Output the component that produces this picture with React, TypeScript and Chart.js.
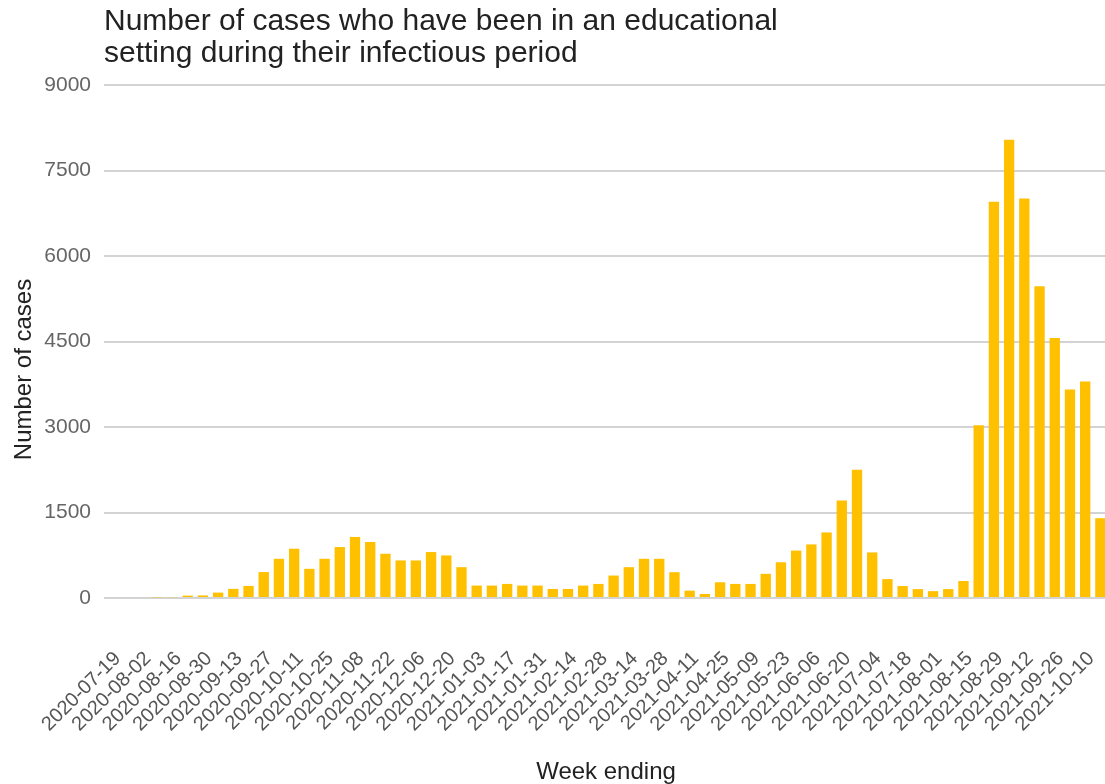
import React, { useEffect, useRef } from "react";
import { Chart, registerables } from "chart.js";

Chart.register(...registerables);

const TITLE_LINES = [
  "Number of cases who have been in an educational",
  "setting during their infectious period",
];
const X_TITLE = "Week ending";
const Y_TITLE = "Number of cases";

const WEEKS = [
  "2020-07-19", "2020-07-26", "2020-08-02", "2020-08-09", "2020-08-16", "2020-08-23",
  "2020-08-30", "2020-09-06", "2020-09-13", "2020-09-20", "2020-09-27", "2020-10-04",
  "2020-10-11", "2020-10-18", "2020-10-25", "2020-11-01", "2020-11-08", "2020-11-15",
  "2020-11-22", "2020-11-29", "2020-12-06", "2020-12-13", "2020-12-20", "2020-12-27",
  "2021-01-03", "2021-01-10", "2021-01-17", "2021-01-24", "2021-01-31", "2021-02-07",
  "2021-02-14", "2021-02-21", "2021-02-28", "2021-03-07", "2021-03-14", "2021-03-21",
  "2021-03-28", "2021-04-04", "2021-04-11", "2021-04-18", "2021-04-25", "2021-05-02",
  "2021-05-09", "2021-05-16", "2021-05-23", "2021-05-30", "2021-06-06", "2021-06-13",
  "2021-06-20", "2021-06-27", "2021-07-04", "2021-07-11", "2021-07-18", "2021-07-25",
  "2021-08-01", "2021-08-08", "2021-08-15", "2021-08-22", "2021-08-29", "2021-09-05",
  "2021-09-12", "2021-09-19", "2021-09-26", "2021-10-03", "2021-10-10", "2021-10-17",
];

const CASES = [
  0, 0, 0, 12, 14, 42,
  45, 95, 160, 212, 455, 688,
  865, 512, 688, 894, 1071, 982,
  776, 659, 659, 806, 747, 541,
  218, 218, 247, 218, 218, 159,
  159, 218, 247, 394, 541, 688,
  688, 453, 129, 71, 276, 247,
  247, 424, 627, 832, 940, 1150,
  1710, 2250, 800, 332, 210, 156,
  120, 156, 298, 3030, 6950, 8040,
  7010, 5470, 4560, 3660, 3800, 1400,
];

const Y_MIN = 0;
const Y_MAX = 9000;
const Y_STEP = 1500;

const FONT = '"Liberation Sans", Arial, sans-serif';

const yTitlePlugin = {
  id: "yTitleCustom",
  afterDraw(chart: any) {
    const { ctx, chartArea } = chart;
    ctx.save();
    ctx.translate(24, (chartArea.top + chartArea.bottom) / 2 + 28);
    ctx.rotate(-Math.PI / 2);
    ctx.font = `24px ${FONT}`;
    ctx.fillStyle = "#222222";
    ctx.textAlign = "center";
    ctx.textBaseline = "middle";
    ctx.fillText(Y_TITLE, 0, 0);
    ctx.restore();
  },
};

export default function App() {
  const ref = useRef<HTMLCanvasElement | null>(null);

  useEffect(() => {
    document.body.style.margin = "0";
    if (!ref.current) return;
    const chart = new Chart(ref.current, {
      type: "bar",
      data: {
        labels: WEEKS,
        datasets: [
          {
            label: Y_TITLE,
            data: CASES,
            backgroundColor: "#FFC000",
            categoryPercentage: 1,
            barPercentage: 0.68,
          },
        ],
      },
      options: {
        animation: false,
        responsive: false,
        layout: { padding: { left: 0, right: 2, top: 0, bottom: 0 } },
        plugins: {
          legend: { display: false },
          tooltip: { enabled: false },
          title: {
            display: true,
            text: TITLE_LINES,
            align: "start",
            fullSize: false,
            color: "#222222",
            font: { family: FONT, size: 30, weight: "normal", lineHeight: 1.05 },
            padding: { top: 6, bottom: 16 },
          },
        },
        scales: {
          x: {
            grid: { display: false, drawTicks: false },
            border: { display: false },
            ticks: {
              autoSkip: false,
              minRotation: 45,
              maxRotation: 45,
              padding: 49,
              labelOffset: 6,
              color: "#555555",
              font: { family: FONT, size: 20 },
              callback: (_v: any, i: number) => (i % 2 === 0 ? WEEKS[i] : ""),
            },
            title: {
              display: true,
              text: X_TITLE,
              color: "#222222",
              font: { family: FONT, size: 24, lineHeight: 1 },
              padding: 0,
            },
            afterFit: (s: any) => {
              s.height = 186;
              s.paddingLeft = 0;
              s.paddingRight = 0;
            },
          },
          y: {
            min: Y_MIN,
            max: Y_MAX,
            border: { display: false },
            grid: { color: "#d3d3d3", lineWidth: 2, drawTicks: false },
            ticks: {
              stepSize: Y_STEP,
              padding: 13,
              color: "#666666",
              font: { family: FONT, size: 21 },
              callback: (v: any) => String(v),
            },
            afterFit: (s: any) => {
              s.width = 104;
            },
          },
        },
      },
      plugins: [yTitlePlugin],
    });
    return () => chart.destroy();
  }, []);

  return (
    <div style={{ width: 1105, height: 784, overflow: "hidden", position: "relative" }}>
      <canvas ref={ref} width={1110} height={784} style={{ display: "block" }} />
    </div>
  );
}
